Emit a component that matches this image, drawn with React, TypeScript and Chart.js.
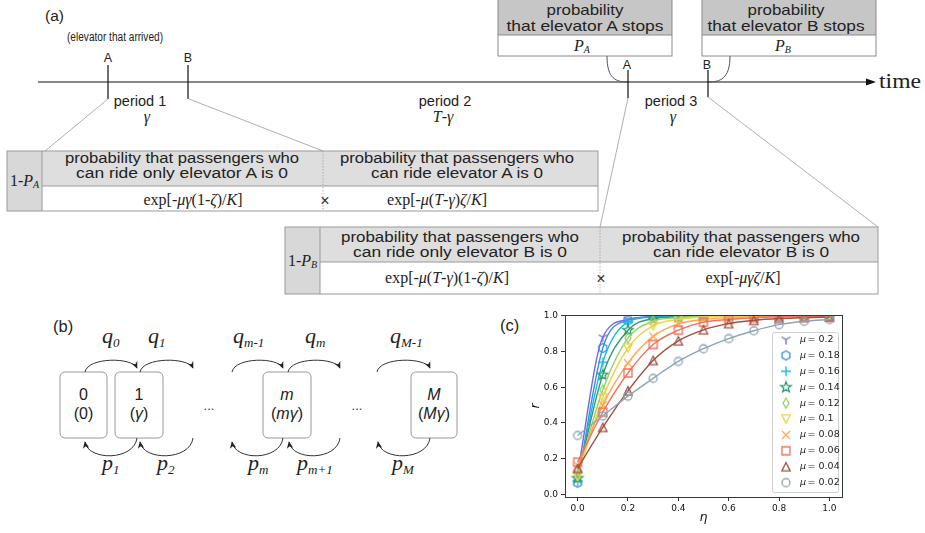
import React, { useEffect, useRef } from 'react';
import { Chart, registerables } from 'chart.js';
Chart.register(...registerables);

// ---------- data for panel (c) ----------
const ETA = [0, 0.1, 0.2, 0.3, 0.4, 0.5, 0.6, 0.7, 0.8, 0.9, 1.0];
const X_TICKS = [0, 0.2, 0.4, 0.6, 0.8, 1.0];
const Y_TICKS = [0, 0.2, 0.4, 0.6, 0.8, 1.0];
const MU_LABELS = ['0.2', '0.18', '0.16', '0.14', '0.12', '0.1', '0.08', '0.06', '0.04', '0.02'];
const R_MU_020 = [0.12, 0.88, 0.98, 0.997, 1.0, 1.0, 1.0, 1.0, 1.0, 1.0, 1.0];
const R_MU_018 = [0.065, 0.82, 0.975, 0.995, 0.999, 1.0, 1.0, 1.0, 1.0, 1.0, 1.0];
const R_MU_016 = [0.075, 0.74, 0.965, 0.993, 0.998, 1.0, 1.0, 1.0, 1.0, 1.0, 1.0];
const R_MU_014 = [0.09, 0.67, 0.92, 0.985, 0.995, 0.999, 1.0, 1.0, 1.0, 1.0, 1.0];
const R_MU_012 = [0.11, 0.585, 0.875, 0.97, 0.99, 0.997, 0.999, 1.0, 1.0, 1.0, 1.0];
const R_MU_010 = [0.10, 0.54, 0.82, 0.945, 0.98, 0.993, 0.997, 0.999, 1.0, 1.0, 1.0];
const R_MU_008 = [0.16, 0.50, 0.735, 0.885, 0.955, 0.98, 0.99, 0.995, 0.998, 0.999, 1.0];
const R_MU_006 = [0.18, 0.46, 0.68, 0.84, 0.92, 0.965, 0.98, 0.99, 0.995, 0.997, 0.998];
const R_MU_004 = [0.145, 0.375, 0.58, 0.75, 0.86, 0.922, 0.957, 0.975, 0.985, 0.99, 0.993];
const R_MU_002 = [0.33, 0.44, 0.55, 0.65, 0.745, 0.816, 0.873, 0.917, 0.951, 0.97, 0.98];
const SERIES_VALUES = [R_MU_020, R_MU_018, R_MU_016, R_MU_014, R_MU_012, R_MU_010, R_MU_008, R_MU_006, R_MU_004, R_MU_002];

// styles (separate from data)
const COLORS = ['#6f6ae0', '#3b8ee6', '#19b9de', '#2f9a70', '#98d065', '#f2d24a', '#ffa553', '#f2705c', '#a0503e', '#8ea3b4'];
const MARKERS = ['tri_down', 'hexagon', 'plus', 'star', 'thin_diamond', 'triangle_down', 'x', 'square', 'triangle', 'circle'];

const SANS = "'Liberation Sans', Arial, sans-serif";
const SERIF = "'Liberation Serif', 'Times New Roman', serif";

function makeMarker(kind: string, color: string): HTMLCanvasElement {
  const s = 16;
  const c = document.createElement('canvas');
  c.width = s; c.height = s;
  const g = c.getContext('2d')!;
  g.strokeStyle = color;
  g.lineWidth = 1.3;
  g.translate(s / 2, s / 2);
  g.beginPath();
  let r = 4;
  switch (kind) {
    case 'tri_down':
      r = 5;
      g.moveTo(0, 0); g.lineTo(0, r);
      g.moveTo(0, 0); g.lineTo(-r * 0.866, -r * 0.5);
      g.moveTo(0, 0); g.lineTo(r * 0.866, -r * 0.5);
      break;
    case 'hexagon':
      r = 4.5;
      for (let i = 0; i < 6; i++) {
        const a = (-90 + 60 * i) * Math.PI / 180;
        const px = r * Math.cos(a), py = r * Math.sin(a);
        if (i === 0) g.moveTo(px, py); else g.lineTo(px, py);
      }
      g.closePath();
      break;
    case 'plus':
      r = 5;
      g.moveTo(-r, 0); g.lineTo(r, 0); g.moveTo(0, -r); g.lineTo(0, r);
      break;
    case 'star': {
      const ro = 5.5, ri = 2.3;
      for (let i = 0; i < 10; i++) {
        const a = (-90 + 36 * i) * Math.PI / 180;
        const rr = i % 2 === 0 ? ro : ri;
        const px = rr * Math.cos(a), py = rr * Math.sin(a);
        if (i === 0) g.moveTo(px, py); else g.lineTo(px, py);
      }
      g.closePath();
      break;
    }
    case 'thin_diamond':
      r = 5;
      g.moveTo(0, -r); g.lineTo(r * 0.6, 0); g.lineTo(0, r); g.lineTo(-r * 0.6, 0); g.closePath();
      break;
    case 'triangle_down':
      r = 4.2;
      g.moveTo(0, r); g.lineTo(-r, -r); g.lineTo(r, -r); g.closePath();
      break;
    case 'x':
      r = 4;
      g.moveTo(-r, -r); g.lineTo(r, r); g.moveTo(r, -r); g.lineTo(-r, r);
      break;
    case 'square':
      r = 4;
      g.rect(-r, -r, 2 * r, 2 * r);
      break;
    case 'triangle':
      r = 4.2;
      g.moveTo(0, -r); g.lineTo(-r, r); g.lineTo(r, r); g.closePath();
      break;
    default:
      g.arc(0, 0, 4, 0, Math.PI * 2);
  }
  g.stroke();
  return c;
}

// Text with italic segments marked in {}
function Mixed({ s }: { s: string }) {
  const parts: React.ReactNode[] = [];
  const re = /\{([^}]*)\}|([^{]+)/g;
  let m: RegExpExecArray | null;
  let k = 0;
  while ((m = re.exec(s))) {
    if (m[1] !== undefined) parts.push(<tspan key={k++} fontStyle="italic">{m[1]}</tspan>);
    else parts.push(<tspan key={k++}>{m[2]}</tspan>);
  }
  return <>{parts}</>;
}

function Sub({ x, y, main, sub, size = 22, subSize = 13, anchor = 'start' as any }: any) {
  return (
    <text x={x} y={y} fontFamily={SERIF} fontStyle="italic" fontSize={size} textAnchor={anchor} fill="#222">
      {main}<tspan fontSize={subSize} dy={4}>{sub}</tspan>
    </text>
  );
}

function Diagram() {
  const hdr = 14;
  const arcs = '#333';
  const topArc = (x1: number, x2: number) => `M${x1},372 C${x1 + 3},357 ${x2 - 5},357 ${x2},368`;
  const botArc = (x1: number, x2: number) => `M${x1},438 C${x1 - 3},461 ${x2 + 3},461 ${x2},442`;
  return (
    <svg width={925} height={533} style={{ position: 'absolute', left: 0, top: 0 }}>
      <defs>
        <marker id="ah" viewBox="0 0 10 10" refX="9" refY="5" markerWidth="7" markerHeight="7" markerUnits="userSpaceOnUse" orient="auto">
          <path d="M0,0.5 L10,5 L0,9.5 L3,5 z" fill="#222" />
        </marker>
      </defs>
      {/* ---------- (a) ---------- */}
      <text x={45} y={21} fontFamily={SANS} fontSize={15.5} fill="#222">(a)</text>
      <text x={115} y={41} fontFamily={SANS} fontSize={12} textAnchor="middle" textLength={96} lengthAdjust="spacingAndGlyphs" fill="#222">(elevator that arrived)</text>
      <text x={108} y={62} fontFamily={SANS} fontSize={12.5} textAnchor="middle" fill="#222">A</text>
      <text x={188} y={62} fontFamily={SANS} fontSize={12.5} textAnchor="middle" fill="#222">B</text>
      <line x1={108} y1={65} x2={108} y2={99} stroke="#111" strokeWidth={1.2} />
      <line x1={188} y1={65} x2={188} y2={99} stroke="#111" strokeWidth={1.2} />
      <line x1={38} y1={82} x2={868} y2={82} stroke="#111" strokeWidth={1.2} />
      <path d="M866,78.5 L876,82 L866,85.5 Z" fill="#111" />
      <text x={879} y={88} fontFamily={SERIF} fontSize={20} textLength={42} lengthAdjust="spacingAndGlyphs" fill="#222">time</text>

      <text x={140} y={106} fontFamily={SANS} fontSize={14.5} textAnchor="middle" fill="#222">period 1</text>
      <text x={147} y={122} fontFamily={SERIF} fontStyle="italic" fontSize={16} textAnchor="middle" fill="#222">γ</text>
      <text x={445} y={106} fontFamily={SANS} fontSize={14.5} textAnchor="middle" fill="#222">period 2</text>
      <text x={443} y={122} fontFamily={SERIF} fontSize={16} textAnchor="middle" fill="#222"><Mixed s="{T}-{γ}" /></text>
      <text x={671} y={106} fontFamily={SANS} fontSize={14.5} textAnchor="middle" fill="#222">period 3</text>
      <text x={673} y={122} fontFamily={SERIF} fontStyle="italic" fontSize={16} textAnchor="middle" fill="#222">γ</text>

      {/* top boxes */}
      {[{ x: 498, c: 585, L: 'A' }, { x: 702, c: 786, L: 'B' }].map((b) => (
        <g key={b.L}>
          <rect x={b.x} y={-1} width={174} height={36} fill="#c6c6c6" />
          <rect x={b.x} y={-1} width={174} height={57} fill="none" stroke="#8a8a8a" strokeWidth={1} />
          <line x1={b.x} y1={35} x2={b.x + 174} y2={35} stroke="#8a8a8a" strokeWidth={1} />
          <text x={b.c} y={15} fontFamily={SANS} fontSize={14.5} textAnchor="middle" textLength={77} lengthAdjust="spacingAndGlyphs" fill="#222">probability</text>
          <text x={b.c} y={31} fontFamily={SANS} fontSize={14.5} textAnchor="middle" textLength={157} lengthAdjust="spacingAndGlyphs" fill="#222">{`that elevator ${b.L} stops`}</text>
          <text x={b.c - 3} y={51} fontFamily={SERIF} fontStyle="italic" fontSize={16} textAnchor="middle" fill="#222">P<tspan fontSize={10} dy={2}>{b.L}</tspan></text>
        </g>
      ))}
      <path d="M607,56 C607,79 616,82 628,82" fill="none" stroke="#555" strokeWidth={1} />
      <path d="M708,82 C720,82 730,79 730,56" fill="none" stroke="#555" strokeWidth={1} />
      <text x={627} y={69} fontFamily={SANS} fontSize={12.5} textAnchor="middle" fill="#222">A</text>
      <text x={707} y={69} fontFamily={SANS} fontSize={12.5} textAnchor="middle" fill="#222">B</text>
      <line x1={628} y1={70} x2={628} y2={98} stroke="#111" strokeWidth={1.2} />
      <line x1={708} y1={70} x2={708} y2={97} stroke="#111" strokeWidth={1.2} />

      {/* connector lines */}
      <line x1={108} y1={99} x2={45} y2={151} stroke="#9a9a9a" strokeWidth={0.8} />
      <line x1={189} y1={99} x2={323} y2={151} stroke="#9a9a9a" strokeWidth={0.8} />
      <line x1={628} y1={98} x2={600} y2={227} stroke="#9a9a9a" strokeWidth={0.8} />
      <line x1={708} y1={97} x2={878} y2={227} stroke="#9a9a9a" strokeWidth={0.8} />

      {/* table 1 */}
      <rect x={7} y={151} width={35} height={60} fill="#d8d8d8" />
      <rect x={42} y={151} width={556} height={35} fill="#dedede" />
      <rect x={7} y={151} width={591} height={60} fill="none" stroke="#9a9a9a" strokeWidth={1} />
      <line x1={42} y1={151} x2={42} y2={211} stroke="#9a9a9a" strokeWidth={1} />
      <line x1={42} y1={186} x2={598} y2={186} stroke="#9a9a9a" strokeWidth={1} />
      <line x1={323} y1={151} x2={323} y2={211} stroke="#a0a0a0" strokeWidth={0.8} strokeDasharray="1.5 1.5" />
      <text x={10} y={186} fontFamily={SERIF} fontSize={16} fill="#222">1-<tspan fontStyle="italic">P</tspan><tspan fontStyle="italic" fontSize={10} dy={2}>A</tspan></text>
      <text x={182} y={163} fontFamily={SANS} fontSize={hdr} textAnchor="middle" textLength={234} lengthAdjust="spacingAndGlyphs" fill="#222">probability that passengers who</text>
      <text x={182} y={178} fontFamily={SANS} fontSize={hdr} textAnchor="middle" textLength={212} lengthAdjust="spacingAndGlyphs" fill="#222">can ride only elevator A is 0</text>
      <text x={457} y={163} fontFamily={SANS} fontSize={hdr} textAnchor="middle" textLength={234} lengthAdjust="spacingAndGlyphs" fill="#222">probability that passengers who</text>
      <text x={457} y={178} fontFamily={SANS} fontSize={hdr} textAnchor="middle" textLength={172} lengthAdjust="spacingAndGlyphs" fill="#222">can ride elevator A is 0</text>
      <text x={193} y={204.5} fontFamily={SERIF} fontSize={16} textAnchor="middle" fill="#222"><Mixed s="exp[-{μγ}(1-{ζ})/{K}]" /></text>
      <text x={437} y={204.5} fontFamily={SERIF} fontSize={16} textAnchor="middle" fill="#222"><Mixed s="exp[-{μ}({T}-{γ}){ζ}/{K}]" /></text>
      <text x={325} y={206} fontFamily={SANS} fontSize={16} textAnchor="middle" fill="#333">×</text>

      {/* table 2 */}
      <rect x={285} y={227} width={35} height={67} fill="#d8d8d8" />
      <rect x={320} y={227} width={558} height={35} fill="#dedede" />
      <rect x={285} y={227} width={593} height={67} fill="none" stroke="#9a9a9a" strokeWidth={1} />
      <line x1={320} y1={227} x2={320} y2={294} stroke="#9a9a9a" strokeWidth={1} />
      <line x1={320} y1={262} x2={878} y2={262} stroke="#9a9a9a" strokeWidth={1} />
      <line x1={600} y1={227} x2={600} y2={294} stroke="#a0a0a0" strokeWidth={0.8} strokeDasharray="1.5 1.5" />
      <text x={288} y={266} fontFamily={SERIF} fontSize={16} fill="#222">1-<tspan fontStyle="italic">P</tspan><tspan fontStyle="italic" fontSize={10} dy={2}>B</tspan></text>
      <text x={460} y={241.5} fontFamily={SANS} fontSize={hdr} textAnchor="middle" textLength={238} lengthAdjust="spacingAndGlyphs" fill="#222">probability that passengers who</text>
      <text x={460} y={256.5} fontFamily={SANS} fontSize={hdr} textAnchor="middle" textLength={214} lengthAdjust="spacingAndGlyphs" fill="#222">can ride only elevator B is 0</text>
      <text x={741} y={241.5} fontFamily={SANS} fontSize={hdr} textAnchor="middle" textLength={238} lengthAdjust="spacingAndGlyphs" fill="#222">probability that passengers who</text>
      <text x={741} y={256.5} fontFamily={SANS} fontSize={hdr} textAnchor="middle" textLength={176} lengthAdjust="spacingAndGlyphs" fill="#222">can ride elevator B is 0</text>
      <text x={447} y={283} fontFamily={SERIF} fontSize={16} textAnchor="middle" fill="#222"><Mixed s="exp[-{μ}({T}-{γ})(1-{ζ})/{K}]" /></text>
      <text x={743} y={283} fontFamily={SERIF} fontSize={16} textAnchor="middle" fill="#222"><Mixed s="exp[-{μγζ}/{K}]" /></text>
      <text x={601} y={284} fontFamily={SANS} fontSize={16} textAnchor="middle" fill="#333">×</text>

      {/* ---------- (b) ---------- */}
      <text x={53} y={332} fontFamily={SANS} fontSize={16.5} fill="#222">(b)</text>
      {[{ x: 60, w: 47, a: '0', b: '(0)' }, { x: 115, w: 48, a: '1', b: '({γ})' }, { x: 263, w: 48, a: '{m}', b: '({mγ})' }, { x: 411, w: 46, a: '{M}', b: '({Mγ})' }].map((bx, i) => (
        <g key={i}>
          <rect x={bx.x} y={372} width={bx.w} height={66} rx={5} ry={5} fill="none" stroke="#9a9a9a" strokeWidth={1} />
          <text x={bx.x + bx.w / 2} y={400} fontFamily={SANS} fontSize={16} textAnchor="middle" fill="#222"><Mixed s={bx.a} /></text>
          <text x={bx.x + bx.w / 2} y={419} fontFamily={SANS} fontSize={16} textAnchor="middle" fill="#222"><Mixed s={bx.b} /></text>
        </g>
      ))}
      <text x={209} y={410} fontFamily={SANS} fontSize={13} textAnchor="middle" fill="#333">...</text>
      <text x={357} y={410} fontFamily={SANS} fontSize={13} textAnchor="middle" fill="#333">...</text>
      {[[85, 137], [140, 193], [232, 283], [288, 340], [377, 430]].map(([a, b], i) => (
        <path key={'t' + i} d={topArc(a, b)} fill="none" stroke={arcs} strokeWidth={1} markerEnd="url(#ah)" />
      ))}
      {[[137, 85], [193, 140], [283, 232], [340, 289], [430, 378]].map(([a, b], i) => (
        <path key={'b' + i} d={botArc(a, b)} fill="none" stroke={arcs} strokeWidth={1} markerEnd="url(#ah)" />
      ))}
      <Sub x={102} y={343} main="q" sub="0" />
      <Sub x={148} y={343} main="q" sub="1" />
      <Sub x={233} y={343} main="q" sub="m-1" />
      <Sub x={305} y={343} main="q" sub="m" />
      <Sub x={390} y={343} main="q" sub="M-1" />
      <Sub x={102} y={470} main="p" sub="1" />
      <Sub x={157} y={470} main="p" sub="2" />
      <Sub x={248} y={470} main="p" sub="m" />
      <Sub x={297} y={470} main="p" sub="m+1" />
      <Sub x={392} y={470} main="p" sub="M" />

      {/* ---------- (c) label ---------- */}
      <text x={500} y={331} fontFamily={SANS} fontSize={16.5} fill="#222">(c)</text>
    </svg>
  );
}

export default function App() {
  const ref = useRef<HTMLCanvasElement>(null);
  useEffect(() => {
    const markers = MARKERS.map((m, i) => makeMarker(m, COLORS[i]));
    const datasets = SERIES_VALUES.map((vals, i) => ({
      label: 'μ = ' + MU_LABELS[i],
      data: vals.map((v, j) => ({ x: ETA[j], y: v })),
      borderColor: COLORS[i],
      backgroundColor: COLORS[i],
      borderWidth: 1.4,
      pointStyle: markers[i] as any,
      pointRadius: 5,
      fill: false,
      showLine: true,
      cubicInterpolationMode: 'monotone' as const,
    })).reverse();

    const framePlugin = {
      id: 'frame',
      afterDatasetsDraw(chart: any) {
        const { ctx, chartArea: a } = chart;
        ctx.save();
        ctx.strokeStyle = '#2f3a3a';
        ctx.lineWidth = 1;
        ctx.strokeRect(Math.round(a.left) + 0.5, Math.round(a.top) + 0.5, Math.round(a.right - a.left), Math.round(a.bottom - a.top));
        ctx.restore();
      },
    };
    const legendPlugin = {
      id: 'boxLegend',
      afterDraw(chart: any) {
        const { ctx, chartArea: a } = chart;
        const w = 66, h = 160;
        const x0 = a.right - 4 - w, y0 = a.bottom - 5 - h;
        ctx.save();
        ctx.fillStyle = 'rgba(255,255,255,0.85)';
        ctx.strokeStyle = '#d0d0d0';
        ctx.lineWidth = 1;
        ctx.beginPath();
        (ctx as any).roundRect(x0 + 0.5, y0 + 0.5, w, h, 2);
        ctx.fill();
        ctx.stroke();
        ctx.textBaseline = 'middle';
        MU_LABELS.forEach((lab, i) => {
          const cy = y0 + 7.5 + i * 15.9;
          ctx.drawImage(markers[i], x0 + 14 - 8, cy - 8);
          ctx.fillStyle = '#222';
          ctx.font = 'italic 9.5px "DejaVu Sans"';
          ctx.fillText('μ', x0 + 28, cy);
          const mw = ctx.measureText('μ').width;
          ctx.font = '9.5px "DejaVu Sans"';
          ctx.fillText('= ' + lab, x0 + 28 + mw + 1.5, cy);
        });
        ctx.restore();
      },
    };

    const tickFont = { family: 'DejaVu Sans', size: 9 };
    const chart = new Chart(ref.current!, {
      type: 'line',
      data: { datasets },
      options: {
        animation: false,
        responsive: false,
        layout: { padding: { top: 9, right: 8, left: 0, bottom: 0 } },
        plugins: { legend: { display: false }, tooltip: { enabled: false } },
        scales: {
          x: {
            type: 'linear', min: -0.05, max: 1.05,
            afterBuildTicks: (s: any) => { s.ticks = X_TICKS.map((v) => ({ value: v })); },
            afterFit: (s: any) => { s.height = 31; },
            ticks: { callback: (v: any) => Number(v).toFixed(1), font: tickFont, color: '#111', padding: 2, maxRotation: 0, autoSkip: false },
            grid: { display: true, drawOnChartArea: false, drawTicks: true, tickLength: 4, color: '#333' },
            border: { display: true, color: '#2f3a3a', width: 1 },
            title: { display: true, text: 'η', font: { family: 'DejaVu Sans', size: 12.5, style: 'italic' }, color: '#111', padding: { top: 0, bottom: 3 } },
          },
          y: {
            type: 'linear', min: -0.015, max: 1.005,
            afterBuildTicks: (s: any) => { s.ticks = Y_TICKS.map((v) => ({ value: v })); },
            afterFit: (s: any) => { s.width = 40; },
            ticks: { callback: (v: any) => Number(v).toFixed(1), font: tickFont, color: '#111', padding: 3, autoSkip: false },
            grid: { display: true, drawOnChartArea: false, drawTicks: true, tickLength: 4, color: '#333' },
            border: { display: true, color: '#2f3a3a', width: 1 },
            title: { display: true, text: 'r', font: { family: 'DejaVu Sans', size: 12.5, style: 'italic' }, color: '#111', padding: { top: 3, bottom: 0 } },
          },
        },
      } as any,
      plugins: [framePlugin, legendPlugin],
    } as any);
    return () => chart.destroy();
  }, []);

  return (
    <div style={{ position: 'absolute', left: 0, top: 0, width: 925, height: 533, background: '#fff', overflow: 'hidden' }}>
      <Diagram />
      <div style={{ position: 'absolute', left: 525, top: 306, width: 325, height: 222 }}>
        <canvas ref={ref} width={325} height={222} style={{ width: 325, height: 222, display: 'block' }} />
      </div>
    </div>
  );
}
